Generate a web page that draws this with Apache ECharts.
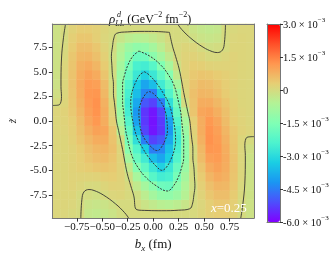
<!DOCTYPE html>
<html><head><meta charset="utf-8">
<script src="https://cdn.jsdelivr.net/npm/echarts@6/dist/echarts.min.js"></script>
<style>html,body{margin:0;padding:0;background:#fff}#c{width:335px;height:258px}</style>
</head><body><div id="c"></div>
<script>
// bin centres (b_x in fm, z-tilde)
const bxCenters = [-0.950,-0.871,-0.792,-0.713,-0.634,-0.554,-0.475,-0.396,-0.317,-0.238,-0.158,-0.079,0,0.079,0.158,0.238,0.317,0.396,0.475,0.554,0.634,0.713,0.792,0.871,0.950];
const zCenters = [-9.38,-8.44,-7.50,-6.57,-5.63,-4.69,-3.75,-2.81,-1.88,-0.94,0,0.94,1.88,2.81,3.75,4.69,5.63,6.57,7.50,8.44,9.38];
// rho values in units of 1e-3 GeV^-2 fm^-2, one row per z (bottom to top)
const rhoRows = [
 [0.1,0.1,0.06,0.0,-0.3,-0.35,-0.3,-0.2,-0.05,0.0,0.0,0.0,0.0,0.0,0.0,0.0,0.0,0.03,0.13,0.24,0.3,0.3,0.2,0.0,-0.15],
 [0.1,0.13,0.1,0.0,-0.2,-0.25,-0.2,-0.1,0.0,0.0,0.0,-0.2,-0.35,-0.5,-0.55,-0.45,-0.25,0.0,0.1,0.27,0.41,0.41,0.27,0.0,-0.15],
 [0.1,0.13,0.13,0.0,-0.05,-0.1,0.0,0.1,0.13,0.03,-0.1,-0.45,-0.85,-1.15,-1.2,-1.0,-0.55,-0.05,0.17,0.41,0.55,0.55,0.34,0.03,-0.15],
 [0.1,0.13,0.17,0.1,0.03,0.03,0.13,0.2,0.17,0.03,-0.35,-0.85,-1.3,-1.8,-1.85,-1.25,-0.65,-0.1,0.24,0.52,0.69,0.66,0.41,0.06,-0.15],
 [0.1,0.13,0.17,0.17,0.17,0.2,0.27,0.3,0.2,-0.1,-0.8,-1.5,-2.2,-2.55,-2.45,-1.65,-0.85,-0.05,0.34,0.69,0.87,0.76,0.45,0.1,-0.15],
 [0.1,0.13,0.2,0.27,0.34,0.41,0.45,0.38,0.2,-0.35,-1.4,-2.05,-2.7,-3.2,-2.7,-1.9,-1.05,-0.05,0.45,0.87,1.0,0.83,0.48,0.1,-0.15],
 [0.1,0.13,0.2,0.3,0.45,0.55,0.59,0.45,0.17,-0.85,-1.9,-2.6,-3.55,-3.95,-3.3,-2.3,-1.2,0.0,0.59,1.04,1.11,0.87,0.48,0.1,-0.15],
 [0.1,0.13,0.2,0.34,0.52,0.66,0.69,0.52,0.13,-1.35,-2.3,-3.3,-4.5,-4.4,-3.55,-2.5,-1.2,0.0,0.66,1.18,1.15,0.83,0.45,0.1,-0.1],
 [0.1,0.13,0.24,0.45,0.66,0.83,0.83,0.48,-0.05,-1.7,-2.9,-4.5,-5.25,-5.0,-3.9,-2.65,-1.2,0.13,0.76,1.25,1.11,0.76,0.41,0.13,0.0],
 [0.1,0.15,0.27,0.52,0.8,1.0,0.94,0.45,-0.5,-2.0,-3.55,-5.2,-5.75,-5.4,-4.15,-2.55,-1.0,0.2,0.83,1.22,1.04,0.69,0.38,0.2,0.12],
 [0.1,0.17,0.3,0.59,0.94,1.15,0.83,0.27,-0.8,-2.3,-4.0,-5.35,-5.8,-5.35,-4.0,-2.3,-0.8,0.27,0.83,1.15,0.94,0.59,0.3,0.17,0.1],
 [0.12,0.2,0.38,0.69,1.04,1.22,0.83,0.2,-1.0,-2.55,-4.15,-5.4,-5.75,-5.2,-3.55,-2.0,-0.5,0.45,0.94,1.0,0.8,0.52,0.27,0.15,0.1],
 [0.0,0.13,0.41,0.76,1.11,1.25,0.76,0.13,-1.2,-2.65,-3.9,-5.0,-5.25,-4.5,-2.9,-1.7,-0.05,0.48,0.83,0.83,0.66,0.45,0.24,0.13,0.1],
 [-0.1,0.1,0.45,0.83,1.15,1.18,0.66,0.0,-1.2,-2.5,-3.55,-4.4,-4.5,-3.3,-2.3,-1.35,0.13,0.52,0.69,0.66,0.52,0.34,0.2,0.13,0.1],
 [-0.15,0.1,0.48,0.87,1.11,1.04,0.59,0.0,-1.2,-2.3,-3.3,-3.95,-3.55,-2.6,-1.9,-0.85,0.17,0.45,0.59,0.55,0.45,0.3,0.2,0.13,0.1],
 [-0.15,0.1,0.48,0.83,1.0,0.87,0.45,-0.05,-1.05,-1.9,-2.7,-3.2,-2.7,-2.05,-1.4,-0.35,0.2,0.38,0.45,0.41,0.34,0.27,0.2,0.13,0.1],
 [-0.15,0.1,0.45,0.76,0.87,0.69,0.34,-0.05,-0.85,-1.65,-2.45,-2.55,-2.2,-1.5,-0.8,-0.1,0.2,0.3,0.27,0.2,0.17,0.17,0.17,0.13,0.1],
 [-0.15,0.06,0.41,0.66,0.69,0.52,0.24,-0.1,-0.65,-1.25,-1.85,-1.8,-1.3,-0.85,-0.35,0.03,0.17,0.2,0.13,0.03,0.03,0.1,0.17,0.13,0.1],
 [-0.15,0.03,0.34,0.55,0.55,0.41,0.17,-0.05,-0.55,-1.0,-1.2,-1.15,-0.85,-0.45,-0.1,0.03,0.13,0.1,0.0,-0.1,-0.05,0.0,0.13,0.13,0.1],
 [-0.15,0.0,0.27,0.41,0.41,0.27,0.1,0.0,-0.25,-0.45,-0.55,-0.5,-0.35,-0.2,0.0,0.0,0.0,-0.1,-0.2,-0.25,-0.2,0.0,0.1,0.13,0.1],
 [-0.15,0.0,0.2,0.3,0.3,0.24,0.13,0.03,0.0,0.0,0.0,0.0,0.0,0.0,0.0,0.0,-0.05,-0.2,-0.3,-0.35,-0.3,0.0,0.06,0.1,0.1]
];
// contour lines: [b_x, z]
const contourZero = [[0.16,9.0],[0.19,7.6],[0.22,6.57],[0.255,5.3],[0.285,3.75],[0.30,2.9],[0.34,0.94],[0.36,0],[0.37,-0.94],[0.38,-1.88],[0.39,-2.81],[0.39,-3.75],[0.40,-4.69],[0.405,-5.63],[0.41,-6.57],[0.40,-7.5],[0.385,-8.44],[0.36,-8.9],[0.25,-9.05],[0.085,-9.1],[-0.05,-9.08],[-0.16,-9.0],[-0.19,-7.6],[-0.22,-6.57],[-0.255,-5.3],[-0.285,-3.75],[-0.30,-2.9],[-0.34,-0.94],[-0.36,0],[-0.37,0.94],[-0.38,1.88],[-0.39,2.81],[-0.39,3.75],[-0.40,4.69],[-0.405,5.63],[-0.41,6.57],[-0.40,7.5],[-0.385,8.44],[-0.36,8.9],[-0.25,9.05],[-0.085,9.1],[0.05,9.08],[0.16,9.0]];
const contourM15 = [[-0.14,7.1],[-0.03,6.57],[0.08,5.63],[0.15,4.69],[0.20,3.75],[0.23,2.81],[0.25,1.88],[0.27,0.94],[0.28,0],[0.29,-0.94],[0.30,-1.88],[0.30,-2.81],[0.30,-3.75],[0.28,-4.69],[0.25,-5.63],[0.20,-6.57],[0.14,-7.1],[0.03,-6.57],[-0.08,-5.63],[-0.15,-4.69],[-0.20,-3.75],[-0.23,-2.81],[-0.25,-1.88],[-0.27,-0.94],[-0.28,0],[-0.29,0.94],[-0.30,1.88],[-0.30,2.81],[-0.30,3.75],[-0.28,4.69],[-0.25,5.63],[-0.20,6.57],[-0.14,7.1]];
const contourM30 = [[-0.085,5.0],[-0.04,4.69],[0.04,3.75],[0.10,2.81],[0.15,1.88],[0.18,0.94],[0.20,0],[0.215,-0.94],[0.22,-1.88],[0.21,-2.81],[0.18,-3.75],[0.13,-4.69],[0.085,-5.0],[0.04,-4.69],[-0.04,-3.75],[-0.10,-2.81],[-0.15,-1.88],[-0.18,-0.94],[-0.20,0],[-0.215,0.94],[-0.22,1.88],[-0.21,2.81],[-0.18,3.75],[-0.13,4.69],[-0.085,5.0]];
const contourM45 = [[-0.04,3.0],[0.0,2.81],[0.08,1.88],[0.12,0.94],[0.135,0],[0.14,-0.94],[0.12,-1.88],[0.07,-2.81],[0.04,-3.0],[0.0,-2.81],[-0.08,-1.88],[-0.12,-0.94],[-0.135,0],[-0.14,0.94],[-0.12,1.88],[-0.07,2.81],[-0.04,3.0]];
const cornerTopLeft = [[-0.86,9.85],[-0.88,8.5],[-0.90,6.3],[-0.905,3.5],[-0.90,2.5],[-0.91,1.8],[-0.93,1.62],[-0.99,1.58]];
const cornerBottomRight = [[0.86,-9.85],[0.88,-8.5],[0.90,-6.3],[0.905,-3.5],[0.90,-2.5],[0.91,-1.8],[0.93,-1.62],[0.99,-1.58]];
const cornerTopRight = [[0.24,9.85],[0.28,9.3],[0.37,8.4],[0.49,7.5],[0.58,7.05],[0.63,6.95],[0.68,7.2],[0.70,8.0],[0.71,9.85]];
const cornerBottomLeft = [[-0.24,-9.85],[-0.28,-9.3],[-0.37,-8.4],[-0.49,-7.5],[-0.58,-7.05],[-0.63,-6.95],[-0.68,-7.2],[-0.70,-8.0],[-0.71,-9.85]];
// tick labels
const xTicks = [-0.75,-0.5,-0.25,0,0.25,0.5,0.75];
const zTicks = [-7.5,-5,-2.5,0,2.5,5,7.5];
const cbarTicks = [-6,-4.5,-3,-1.5,0,1.5,3];

const SERIF = '"Liberation Serif","DejaVu Serif",serif';
const rainbow = ['#8000ff','#4d4ffc','#1a96f2','#1acee3','#4df3ce','#80ffb4','#b3f396','#e6ce74','#ff964f','#ff4f28','#ff0000'];

const heat = [];
rhoRows.forEach((row, j) => row.forEach((v, i) => heat.push([i, j, v])));

const chart = echarts.init(document.getElementById('c'), null, {renderer: 'canvas'});
const lineCol = '#333';
function contour(data, dashed) {
  return {type: 'line', xAxisIndex: 1, yAxisIndex: 1, data: data, smooth: 0.4, showSymbol: false,
    silent: true, z: 4, lineStyle: {color: lineCol, width: dashed ? 1 : 0.9, type: dashed ? [2, 1.3] : 'solid'}};
}
const frame = {show: true, onZero: false, lineStyle: {color: '#777'}};
const T = (extra) => Object.assign({fontFamily: SERIF, color: '#111', fontWeight: 'normal'}, extra);
chart.setOption({
  animation: false,
  grid: [{left: 41, top: 24, width: 213, height: 198}, {left: 267, top: 24, width: 13, height: 198}],
  title: [
    {text: '{r|ρ}{sb|LL}{n| (GeV}{sp|−2}{n| fm}{sp|−2}{n|)}', left: 104, top: 6,
     textStyle: {fontWeight: 'normal', rich: {
       r: T({fontStyle: 'italic', fontSize: 13, lineHeight: 17, verticalAlign: 'middle'}),
       sb: T({fontStyle: 'italic', fontSize: 8, lineHeight: 17, verticalAlign: 'bottom'}),
       n: T({fontSize: 12, lineHeight: 17, verticalAlign: 'middle'}),
       sp: T({fontSize: 8, lineHeight: 17, verticalAlign: 'top'})}}},
    {text: 'd', left: 112, top: 6, textStyle: T({fontStyle: 'italic', fontSize: 8})},
    {text: '{i|x}{n|=0.25}', left: 206, top: 197, textStyle: {fontWeight: 'normal', rich: {
       i: {fontFamily: SERIF, fontStyle: 'italic', fontSize: 13, color: '#fff'},
       n: {fontFamily: SERIF, fontSize: 13, color: '#fff'}}}}
  ],
  visualMap: {type: 'continuous', seriesIndex: 0, min: -6, max: 3, calculable: false, showLabel: false,
    left: 267, top: 24, itemWidth: 13, itemHeight: 198, padding: 0, hoverLink: false,
    inRange: {color: rainbow}},
  xAxis: [
    {type: 'category', gridIndex: 0, data: bxCenters, position: 'top', z: 10,
     axisLine: frame, axisTick: {show: false}, axisLabel: {show: false}},
    {type: 'value', gridIndex: 0, min: -0.99, max: 0.99, position: 'bottom', z: 10,
     axisLine: frame,
     axisTick: {show: true, length: 3.5, customValues: xTicks, lineStyle: {color: '#333'}},
     axisLabel: {customValues: xTicks, fontFamily: SERIF, fontSize: 11, color: '#111', margin: 4,
       formatter: v => (v < 0 ? '\u2212' : '') + Math.abs(v).toFixed(2)},
     splitLine: {show: false},
     name: '{i|b}{s|x}{n| (fm)}', nameLocation: 'middle', nameGap: 13,
     nameTextStyle: {rich: {
       i: T({fontStyle: 'italic', fontSize: 13, lineHeight: 17, verticalAlign: 'middle'}),
       s: T({fontStyle: 'italic', fontSize: 9, lineHeight: 17, verticalAlign: 'bottom'}),
       n: T({fontSize: 13, lineHeight: 17, verticalAlign: 'middle'})}}},
    {type: 'category', gridIndex: 1, data: ['c'], position: 'bottom', z: 10,
     axisLine: frame, axisTick: {show: false}, axisLabel: {show: false}},
    {type: 'category', gridIndex: 1, data: ['c'], position: 'top', z: 10,
     axisLine: frame, axisTick: {show: false}, axisLabel: {show: false}}
  ],
  yAxis: [
    {type: 'category', gridIndex: 0, data: zCenters, position: 'right', z: 10,
     axisLine: frame, axisTick: {show: false}, axisLabel: {show: false}},
    {type: 'value', gridIndex: 0, min: -9.85, max: 9.85, position: 'left', z: 10,
     axisLine: frame,
     axisTick: {show: true, length: 3.5, customValues: zTicks, lineStyle: {color: '#333'}},
     axisLabel: {customValues: zTicks, fontFamily: SERIF, fontSize: 11, color: '#111', margin: 5,
       formatter: v => v.toFixed(1)},
     splitLine: {show: false},
     name: 'z\u0303', nameLocation: 'middle', nameGap: 32, nameRotate: 90,
     nameTextStyle: T({fontStyle: 'italic', fontSize: 11})},
    {type: 'value', gridIndex: 1, min: -6, max: 3, interval: 1.5, position: 'right', z: 10,
     axisLine: frame,
     axisTick: {show: true, length: 3, lineStyle: {color: '#333'}},
     splitLine: {show: false},
     axisLabel: {margin: 3, formatter: v => Math.abs(v) < 1e-9 ? '{m|0}' : '{m|' + (v < 0 ? '-' : '') + Math.abs(v).toFixed(1) + ' × 10}{s|−3}',
       rich: {m: T({fontSize: 10.5, lineHeight: 14, verticalAlign: 'bottom'}),
              s: T({fontSize: 7, lineHeight: 14, verticalAlign: 'top'})}}},
    {type: 'value', gridIndex: 1, min: -6, max: 3, position: 'left', z: 10,
     axisLine: frame, axisTick: {show: false}, axisLabel: {show: false}, splitLine: {show: false}}
  ],
  series: [
    {type: 'heatmap', xAxisIndex: 0, yAxisIndex: 0, data: heat, silent: true, progressive: 0, emphasis: {disabled: true}},
    contour(contourZero, false),
    contour(contourM15, true),
    contour(contourM30, true),
    contour(contourM45, true),
    contour(cornerTopLeft, false),
    contour(cornerBottomRight, false),
    contour(cornerTopRight, false),
    contour(cornerBottomLeft, false)
  ]
});
</script></body></html>
